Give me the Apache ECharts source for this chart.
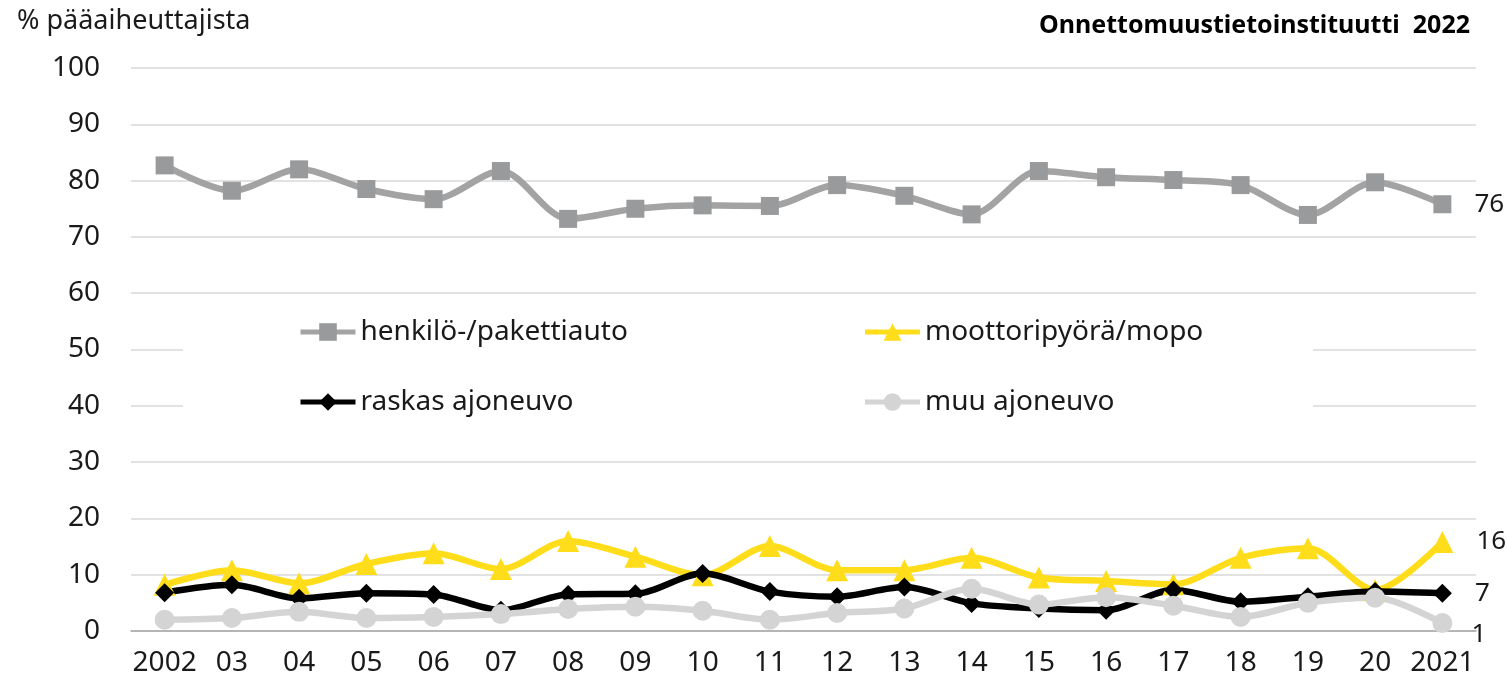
<!DOCTYPE html>
<html>
<head>
<meta charset="utf-8">
<script src="https://cdn.jsdelivr.net/npm/echarts@6/dist/echarts.min.js"></script>
<style>
  html, body { margin: 0; padding: 0; background: #fff; }
  #chart { width: 1507px; height: 692px; }
</style>
</head>
<body>
<div id="chart"></div>
<script>
// vuodet
const years = ['2002', '03', '04', '05', '06', '07', '08', '09', '10', '11',
  '12', '13', '14', '15', '16', '17', '18', '19', '20', '2021'];

const henkiloauto = [82.7, 78.2, 82.0, 78.5, 76.7, 81.7, 73.2, 75.0, 75.6, 75.5,
  79.2, 77.3, 74.0, 81.7, 80.6, 80.1, 79.2, 73.9, 79.7, 75.8];
const moottoripyora = [8.2, 10.8, 8.5, 11.9, 13.8, 11.0, 16.0, 13.2, 9.9, 15.1,
  10.8, 10.8, 13.0, 9.5, 8.9, 8.3, 13.0, 14.7, 7.3, 15.8];
const raskas = [6.8, 8.2, 5.8, 6.7, 6.5, 3.7, 6.5, 6.6, 10.2, 7.0,
  6.1, 7.8, 4.9, 4.0, 3.7, 7.3, 5.2, 6.1, 7.0, 6.7];
const muu = [2.0, 2.3, 3.4, 2.3, 2.5, 3.0, 3.9, 4.3, 3.6, 2.0,
  3.2, 4.0, 7.5, 4.7, 6.0, 4.5, 2.5, 5.0, 5.9, 1.4];

const yTicks = {min: 0, max: 100, interval: 10};

const font = 'Noto Sans';
const textColor = '#1a1a1a';

// viimeiselle pisteelle arvo näkyviin
function withEndLabel(arr, extra) {
    return arr.map((v, i) => i === arr.length - 1
        ? Object.assign({value: v, label: {show: true}}, extra || {})
        : v);
}

function line(name, data, color, symbol, size, lineColor, extra) {
    return {
        name: name,
        type: 'line',
        data: withEndLabel(data, extra),
        smooth: 0.3,
        symbol: symbol,
        symbolSize: size,
        showAllSymbol: true,
        lineStyle: {color: lineColor || color, width: 6.5},
        itemStyle: {color: color},
        label: {
            show: false,
            position: 'right',
            distance: 23,
            color: textColor,
            fontFamily: font,
            fontSize: 26,
            formatter: p => Math.round(p.value)
        },
        emphasis: {disabled: true},
        animation: false
    };
}

const chart = echarts.init(document.getElementById('chart'));

chart.setOption({
    backgroundColor: '#fff',
    textStyle: {fontFamily: font},
    title: [
        {
            text: '% pääaiheuttajista',
            left: 12, top: 3,
            textStyle: {fontFamily: font, fontSize: 27, fontWeight: 'normal', color: textColor}
        },
        {
            text: 'Onnettomuustietoinstituutti  2022',
            right: 32, top: 8,
            textStyle: {fontFamily: font, fontSize: 25, fontWeight: 'bold', color: '#000'}
        }
    ],
    legend: {
        left: 183,
        top: 298,
        width: 1080,
        padding: [18, 58, 18, 115],
        backgroundColor: '#fff',
        itemWidth: 55,
        itemHeight: 22,
        itemGap: 38,
        z: 10,
        lineStyle: {width: 5},
        textStyle: {fontFamily: font, fontSize: 28, color: textColor, lineHeight: 32},
        data: [
            {name: 'henkilö-/pakettiauto', textStyle: {width: 464}},
            {name: 'moottoripyörä/mopo', textStyle: {width: 330}},
            {name: 'raskas ajoneuvo', textStyle: {width: 464}},
            {name: 'muu ajoneuvo', textStyle: {width: 330}}
        ]
    },
    grid: {left: 131, right: 31, top: 68, bottom: 61},
    xAxis: {
        type: 'category',
        data: years,
        boundaryGap: true,
        axisLine: {lineStyle: {color: '#a6a6a6', width: 1.5}},
        axisTick: {show: false},
        axisLabel: {color: textColor, fontSize: 28, fontFamily: font, margin: 18, interval: 0}
    },
    yAxis: {
        type: 'value',
        min: yTicks.min,
        max: yTicks.max,
        interval: yTicks.interval,
        axisLine: {show: false},
        axisTick: {show: false},
        splitLine: {lineStyle: {color: '#d9d9d9', width: 1.5}},
        axisLabel: {color: textColor, fontSize: 28, fontFamily: font, margin: 31}
    },
    series: [
        line('henkilö-/pakettiauto', henkiloauto, '#999a9c', 'rect', 18, '#a3a3a3'),
        line('moottoripyörä/mopo', moottoripyora, '#ffdd1a', 'triangle', 22),
        line('raskas ajoneuvo', raskas, '#000000', 'diamond', 19),
        line('muu ajoneuvo', muu, '#d4d4d4', 'circle', 20, null,
            {label: {show: true, offset: [-4, 11], position: 'right', distance: 23}})
    ]
});
</script>
</body>
</html>
